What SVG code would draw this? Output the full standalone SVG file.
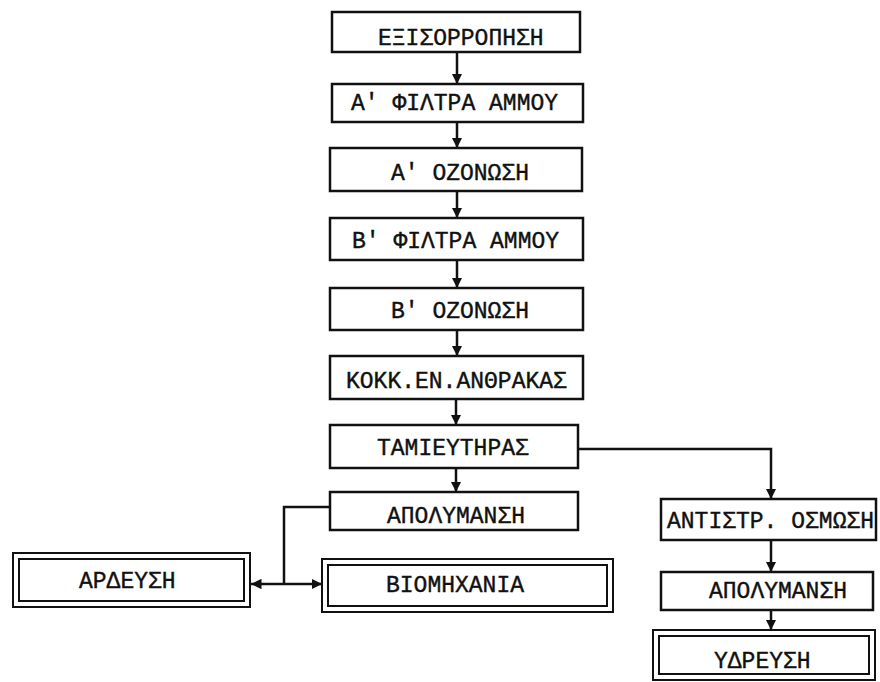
<svg xmlns="http://www.w3.org/2000/svg" width="880" height="682" viewBox="0 0 880 682">
<style>
.b{fill:#fff;stroke:#111;stroke-width:2.5}
.d{fill:none;stroke:#111;stroke-width:2}
.t{font-family:"Liberation Mono","DejaVu Sans Mono",monospace;font-size:23px;fill:#111;stroke:#111;stroke-width:0.4}
.c{fill:none;stroke:#111;stroke-width:2.5}
</style>
<defs>
<marker id="ah" viewBox="0 0 10 10" refX="10" refY="5" markerWidth="4.2" markerHeight="4.2" orient="auto">
<path d="M0,0 L10,5 L0,10 Z" fill="#111"/>
</marker>
</defs>
<rect width="880" height="682" fill="#fff"/>
<g id="connectors">
<line class="c" x1="457" y1="52" x2="457" y2="84" marker-end="url(#ah)"/>
<line class="c" x1="457" y1="122" x2="457" y2="148" marker-end="url(#ah)"/>
<line class="c" x1="457" y1="191" x2="457" y2="218" marker-end="url(#ah)"/>
<line class="c" x1="457" y1="260" x2="457" y2="288" marker-end="url(#ah)"/>
<line class="c" x1="457" y1="330" x2="457" y2="356" marker-end="url(#ah)"/>
<line class="c" x1="456" y1="399" x2="456" y2="425" marker-end="url(#ah)"/>
<line class="c" x1="456" y1="468" x2="456" y2="492" marker-end="url(#ah)"/>
<polyline class="c" points="330,507 284,507 284,584"/>
<line class="c" x1="284" y1="584" x2="251" y2="584" marker-end="url(#ah)"/>
<line class="c" x1="284" y1="584" x2="322" y2="584" marker-end="url(#ah)"/>
<polyline class="c" points="578,449 771,449 771,499" marker-end="url(#ah)"/>
<line class="c" x1="771" y1="540" x2="771" y2="572" marker-end="url(#ah)"/>
<line class="c" x1="771" y1="610" x2="771" y2="630" marker-end="url(#ah)"/>
</g>
<g id="n1"><rect class="b" x="332" y="12" width="248" height="40"/><text class="t" x="378" y="45">ΕΞΙΣΟΡΡΟΠΗΣΗ</text></g>
<g id="n2"><rect class="b" x="332" y="84" width="251" height="38"/><text class="t" x="351" y="110">Α' ΦΙΛΤΡΑ ΑΜΜΟΥ</text></g>
<g id="n3"><rect class="b" x="330" y="148" width="252" height="43"/><text class="t" x="391" y="180">Α' ΟΖΟΝΩΣΗ</text></g>
<g id="n4"><rect class="b" x="330" y="218" width="253" height="42"/><text class="t" x="352" y="248">Β' ΦΙΛΤΡΑ ΑΜΜΟΥ</text></g>
<g id="n5"><rect class="b" x="330" y="288" width="253" height="42"/><text class="t" x="391" y="318">Β' ΟΖΟΝΩΣΗ</text></g>
<g id="n6"><rect class="b" x="330" y="356" width="253" height="43"/><text class="t" x="346" y="388">ΚΟΚΚ.ΕΝ.ΑΝΘΡΑΚΑΣ</text></g>
<g id="n7"><rect class="b" x="330" y="425" width="248" height="43"/><text class="t" x="377" y="455">ΤΑΜΙΕΥΤΗΡΑΣ</text></g>
<g id="n8"><rect class="b" x="330" y="492" width="248" height="38"/><text class="t" x="387" y="523">ΑΠΟΛΥΜΑΝΣΗ</text></g>
<g id="n9"><rect class="d" x="13" y="553" width="237" height="54"/><rect class="d" x="19" y="559" width="225" height="42"/><text class="t" x="79" y="588">ΑΡΔΕΥΣΗ</text></g>
<g id="n10"><rect class="d" x="322" y="559" width="291" height="53"/><rect class="d" x="328" y="565" width="279" height="41"/><text class="t" x="386" y="592">ΒΙΟΜΗΧΑΝΙΑ</text></g>
<g id="n11"><rect class="b" x="661" y="499" width="215" height="41"/><text class="t" x="667" y="528">ΑΝΤΙΣΤΡ. ΟΣΜΩΣΗ</text></g>
<g id="n12"><rect class="b" x="661" y="572" width="212" height="38"/><text class="t" x="709" y="598">ΑΠΟΛΥΜΑΝΣΗ</text></g>
<g id="n13"><rect class="d" x="653" y="630" width="222" height="50"/><rect class="d" x="659" y="636" width="210" height="38"/><text class="t" x="714" y="668">ΥΔΡΕΥΣΗ</text></g>
</svg>
